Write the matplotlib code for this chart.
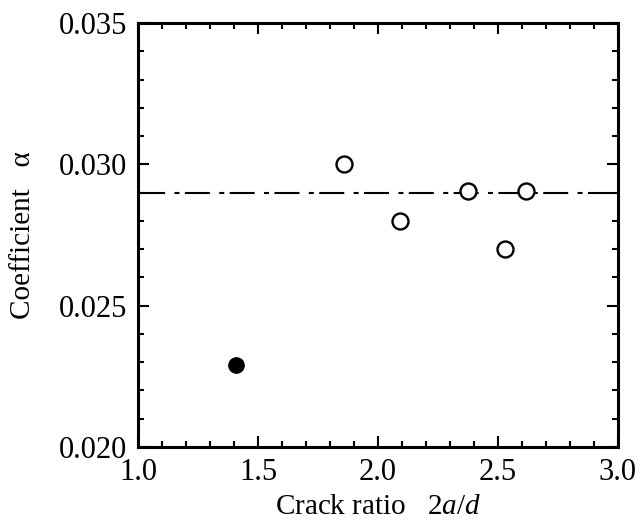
import matplotlib
matplotlib.use("Agg")
import matplotlib.pyplot as plt
from matplotlib.ticker import MultipleLocator

plt.rcParams['font.family'] = ['Liberation Serif', 'DejaVu Serif']
plt.rcParams['mathtext.fontset'] = 'custom'
plt.rcParams['mathtext.rm'] = 'Liberation Serif'
plt.rcParams['mathtext.it'] = 'Liberation Serif:italic'

# Data
filled_x = [1.41]
filled_y = [0.0229]
open_x = [1.86, 2.09, 2.375, 2.53, 2.615]
open_y = [0.0300, 0.0280, 0.02905, 0.0270, 0.02905]
mean_alpha = 0.0290

fig = plt.figure(figsize=(6.41, 5.22), dpi=100)
ax = fig.add_axes([138/641, 1-447/522, (618-138)/641, (447-23)/522])

ax.axhline(mean_alpha, color='black', lw=1.5, linestyle=(4, (2.4, 2.6, 12, 4.5)), zorder=1)
ax.plot(open_x, open_y, 'o', ms=11.5, mfc='white', mec='black', mew=1.7, zorder=3)
ax.plot(filled_x, filled_y, 'o', ms=11, mfc='black', mec='black', zorder=3)

ax.set_xlim(1.0, 3.0)
ax.set_ylim(0.020, 0.035)
ax.xaxis.set_major_locator(MultipleLocator(0.5))
ax.xaxis.set_minor_locator(MultipleLocator(0.1))
ax.yaxis.set_major_locator(MultipleLocator(0.005))
ax.yaxis.set_minor_locator(MultipleLocator(0.001))
ax.xaxis.set_major_formatter(plt.FuncFormatter(lambda v, p: f"{v:.1f}"))
ax.yaxis.set_major_formatter(plt.FuncFormatter(lambda v, p: f"{v:.3f}"))

ax.tick_params(which='both', direction='in', top=True, right=True, width=1.5, labelsize=22, colors='black')
ax.tick_params(which='major', length=8, pad=8)
ax.tick_params(which='minor', length=4)
for s in ax.spines.values():
    s.set_linewidth(2.2)

ax.set_xlabel(r"Crack ratio   $2a/d$", fontsize=21, labelpad=5)
ax.set_ylabel("Coefficient   α", fontsize=21, labelpad=16)

fig.savefig("out.png", dpi=100)
